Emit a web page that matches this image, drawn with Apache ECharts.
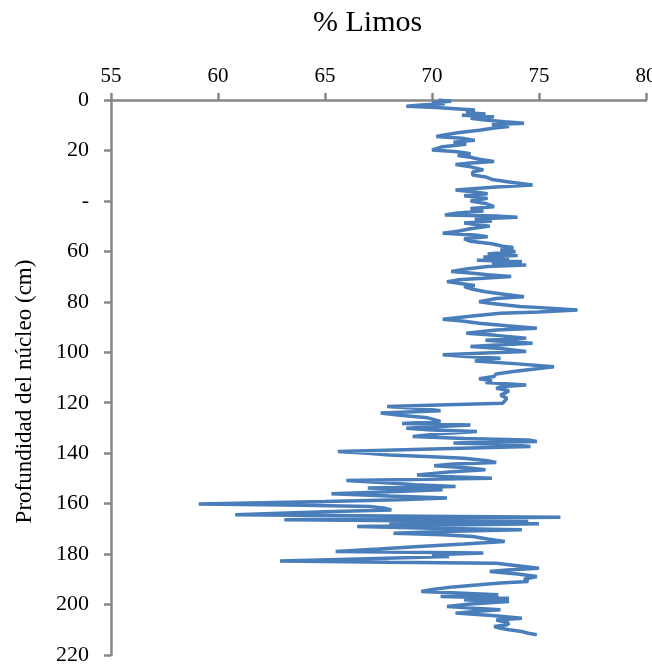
<!DOCTYPE html>
<html>
<head>
<meta charset="utf-8">
<script src="https://cdn.jsdelivr.net/npm/echarts@6/dist/echarts.min.js"></script>
<style>
  html, body { margin: 0; padding: 0; background: #fff; }
  #limos { width: 652px; height: 664px; }
</style>
</head>
<body>
<div id="limos"></div>
<script>
// profundidad (cm) y % limos
var depth = [0, 0.5, 1, 1.5, 2, 2.5, 3, 3.5, 4, 5, 5.5, 6, 6.6, 7.2, 8, 8.6, 9.2, 9.8, 10.5, 11,
  12, 13, 14, 14.5, 15.2, 16, 16.7, 17.5, 18.5, 19.8, 20.5, 21.3, 22, 22.7, 23.5, 24.4, 25, 25.6, 26.5, 27.7,
  28.5, 29.7, 30.5, 31.5, 32.5, 33.7, 34.5, 35.7, 36.5, 37.2, 38, 39, 40, 41, 42.3, 43, 44, 44.8, 45.6, 46,
  46.5, 47.2, 48, 48.8, 50, 51, 52, 52.8, 53.5, 54.2, 55, 56, 57, 58, 58.5, 59.5, 60.1, 61, 61.6, 62.2,
  62.8, 63.5, 64, 64.7, 65.4, 66, 67, 68, 68.6, 69.3, 70, 70.7, 71.3, 72, 72.8, 73.5, 74, 75, 76, 76.8,
  78, 78.7, 80, 80.7, 81.9, 82.5, 83.2, 84, 84.5, 85.5, 86.9, 87.6, 88.5, 89.5, 90.5, 91.2, 92.5, 93.3, 94.4, 95.2,
  96.4, 97.1, 97.7, 98.5, 99.7, 100.3, 101, 101.7, 102.4, 103.5, 104.6, 105.7, 106.6, 107.6, 108.6, 109.6, 110.5, 111.3, 112, 113,
  113.7, 114.3, 115.2, 116.2, 117, 118.2, 119.3, 120.2, 120.8, 121.5, 122.3, 123.2, 124.1, 125, 126, 127.4, 128.2, 128.8, 130.1, 130.8,
  131.4, 132.2, 133.4, 134.2, 134.8, 135.4, 136, 136.7, 137.4, 138.3, 139.3, 140, 140.7, 141.4, 142, 143, 143.7, 144.3, 145, 145.8,
  146.6, 147.5, 148.6, 149.3, 149.9, 150.8, 151.8, 152.5, 153.2, 153.8, 154.5, 155.3, 156.1, 157, 157.8, 158.5, 159.2, 160.1, 160.6, 161.1,
  161.8, 162.5, 163.2, 164.4, 164.9, 165.4, 165.9, 166.4, 166.8, 167.1, 167.6, 168, 168.6, 169.1, 169.8, 170.4, 171, 171.7, 172.3, 173,
  174, 175, 176, 177, 178, 179, 179.6, 180.3, 181, 181.8, 182.7, 183.2, 183.6, 184.6, 185.6, 186.3, 186.9, 187.9, 188.9, 190,
  190.9, 191.5, 192.2, 193, 194, 194.8, 195.5, 196.1, 196.8, 197.5, 198.1, 198.8, 199.8, 200.8, 201.5, 202.1, 202.8, 203.4, 204.3, 205.4,
  206.1, 206.7, 207.4, 208, 208.7, 209.4, 210, 210.7, 211.4, 212];

var limos = [70.3, 70.9, 70.0, 70.6, 69.5, 68.8, 70.2, 71.1, 72.0, 71.6, 72.5, 71.4, 72.9, 71.8, 72.6, 73.4, 74.3, 72.8, 73.6, 73.0,
  72.2, 71.2, 70.5, 70.2, 71.4, 72.0, 71.0, 71.6, 70.5, 70.0, 71.2, 71.8, 71.2, 71.8, 72.2, 72.9, 71.8, 71.1, 71.8, 72.4,
  71.9, 71.9, 72.5, 72.8, 73.6, 74.7, 73.0, 71.1, 72.0, 72.6, 71.5, 72.6, 71.8, 72.5, 72.9, 71.8, 72.4, 71.2, 70.6, 73.0,
  74.0, 72.0, 72.8, 71.5, 72.7, 71.8, 71.2, 70.5, 72.0, 72.6, 71.5, 71.8, 72.8, 73.3, 73.8, 73.2, 73.9, 72.6, 74.0, 72.4,
  73.6, 72.1, 74.2, 72.8, 74.4, 72.6, 71.6, 70.9, 71.8, 72.6, 73.7, 72.4, 71.2, 70.7, 71.4, 72.0, 71.5, 71.9, 72.5, 73.2,
  74.3, 73.0, 72.2, 72.8, 74.1, 75.5, 76.8, 75.0, 73.2, 72.0, 70.5, 71.4, 72.2, 73.5, 74.9, 73.0, 71.6, 73.0, 74.4, 72.5,
  74.7, 73.0, 71.8, 73.2, 74.4, 72.5, 70.5, 71.6, 73.2, 72.0, 74.0, 75.7, 74.8, 73.8, 73.0, 72.9, 72.2, 72.8, 72.5, 74.4,
  73.2, 73.0, 73.6, 73.4, 73.2, 73.5, 73.4, 73.3, 70.7, 67.9, 69.5, 70.4, 67.6, 68.5, 69.8, 70.4, 68.6, 71.8, 68.8, 70.0,
  72.1, 70.5, 69.1, 71.5, 74.5, 74.9, 71.0, 73.8, 74.6, 70.0, 65.6, 67.0, 68.0, 70.0, 71.5, 72.6, 73.0, 71.0, 70.1, 71.6,
  72.5, 70.8, 69.3, 71.0, 72.8, 66.0, 68.0, 69.2, 71.1, 67.0, 70.5, 68.0, 65.3, 68.0, 70.7, 68.5, 65.0, 59.1, 64.0, 67.1,
  67.8, 68.1, 65.0, 60.8, 68.0, 76.0, 68.0, 63.1, 69.0, 74.5, 68.0, 75.0, 70.0, 66.5, 70.0, 74.2, 70.5, 68.2, 70.5, 71.9,
  72.6, 73.4, 71.5, 69.4, 67.5, 65.5, 72.4, 70.0, 70.8, 67.0, 62.9, 68.0, 73.0, 74.0, 75.0, 73.5, 72.7, 74.0, 74.9, 74.3,
  74.5, 73.2, 72.2, 71.0, 70.0, 69.5, 71.5, 73.1, 70.4, 73.6, 71.5, 73.6, 71.8, 70.7, 72.0, 73.2, 72.0, 71.1, 72.8, 74.2,
  73.0, 73.0, 73.6, 73.5, 72.9, 73.2, 73.6, 74.2, 74.5, 74.9];

var xTicks = [55, 80, 5];     // min, max, intervalo
var yTicks = [0, 220, 20];

var serie = [];
for (var i = 0; i < depth.length; i++) {
  serie.push([limos[i], depth[i]]);
}

var chart = echarts.init(document.getElementById('limos'));
var font = 'Liberation Serif';
var gris = '#878787';
chart.setOption({
  animation: false,
  title: {
    text: '% Limos',
    left: 308,
    top: 3,
    textStyle: { fontFamily: font, fontSize: 30, fontWeight: 'normal', color: '#000' }
  },
  grid: { left: 111, right: 6, top: 100, bottom: 9, outerBoundsMode: 'none' },
  xAxis: {
    type: 'value',
    position: 'top',
    min: xTicks[0],
    max: xTicks[1],
    interval: xTicks[2],
    splitLine: { show: false },
    axisLine: { onZero: false, lineStyle: { color: gris, width: 2.5 } },
    axisTick: { length: 7, lineStyle: { color: gris, width: 2.5 } },
    axisLabel: { fontFamily: font, fontSize: 21, color: '#000', margin: 13 }
  },
  yAxis: {
    type: 'value',
    inverse: true,
    min: yTicks[0],
    max: yTicks[1],
    interval: yTicks[2],
    name: 'Profundidad del núcleo (cm)',
    nameLocation: 'middle',
    nameGap: 75,
    nameTextStyle: { fontFamily: font, fontSize: 23, color: '#000', padding: [0, 28, 0, 0] },
    splitLine: { show: false },
    axisLine: { onZero: false, lineStyle: { color: gris, width: 2.5 } },
    axisTick: { length: 7, lineStyle: { color: gris, width: 2.5 } },
    axisLabel: {
      fontFamily: font, fontSize: 22, color: '#000', margin: 22,
      formatter: function (v) { return v === 40 ? '-' : v; }
    }
  },
  series: [{
    type: 'line',
    data: serie,
    showSymbol: false,
    smooth: false,
    lineStyle: { color: '#4a7ebb', width: 3.5 }
  }]
});
</script>
</body>
</html>
